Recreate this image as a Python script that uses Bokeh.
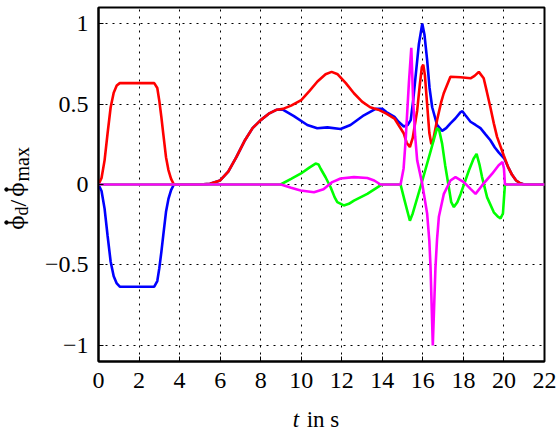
import math
from bokeh.plotting import figure
from bokeh.layouts import row, column
from bokeh.models import Range1d, FixedTicker, CustomJSTickFormatter
from bokeh.core.properties import value
from bokeh.embed import file_html
from bokeh.resources import INLINE

# ---------------- data ----------------
x_ticks = [0, 2, 4, 6, 8, 10, 12, 14, 16, 18, 20, 22]
y_ticks = [-1, -0.5, 0, 0.5, 1]

blue_t = [0, 0.15, 0.3, 0.45, 0.6, 0.75, 0.9, 1.05, 1.2, 2.75, 2.9, 3.0, 3.1, 3.2, 3.33, 3.45, 3.58, 3.72,
          5.0, 5.5, 6.0, 6.4, 6.8, 7.2, 7.6, 8.0, 8.4, 8.8, 9.07, 9.64, 10.3, 10.79, 11.29, 11.94, 12.43,
          13.09, 13.67, 14.0, 14.2, 14.6, 14.8, 15.06, 15.25, 15.4, 15.52, 15.64, 15.8, 15.97, 16.08,
          16.21, 16.33, 16.46, 16.7, 16.95, 17.15, 17.36, 17.6, 17.86, 17.95, 18.1, 18.35, 18.6, 18.84,
          19.1, 19.33, 19.55, 19.74, 20.02, 20.2, 20.4, 20.6, 20.8, 21.0, 22.0]
blue_v = [0, -0.04, -0.15, -0.32, -0.48, -0.57, -0.615, -0.635, -0.635, -0.635, -0.6, -0.52, -0.42, -0.31,
          -0.17, -0.09, -0.035, 0,
          0, 0.005, 0.025, 0.08, 0.17, 0.27, 0.35, 0.4, 0.44, 0.465, 0.467, 0.425, 0.37, 0.35, 0.355, 0.345,
          0.37, 0.43, 0.47, 0.47, 0.45, 0.42, 0.39, 0.36, 0.37, 0.40, 0.52, 0.67, 0.87, 1.0, 0.93,
          0.775, 0.6, 0.48, 0.37, 0.333, 0.35, 0.38, 0.41, 0.45, 0.455, 0.43, 0.39, 0.37, 0.35,
          0.31, 0.275, 0.23, 0.20, 0.16, 0.11, 0.06, 0.025, 0.008, 0, 0]

red_t = [0, 0.15, 0.3, 0.45, 0.6, 0.75, 0.9, 1.05, 1.2, 2.75, 2.9, 3.0, 3.1, 3.2, 3.33, 3.45, 3.58, 3.72,
         5.0, 5.5, 6.0, 6.4, 6.8, 7.2, 7.6, 8.0, 8.4, 8.8, 9.1, 9.5, 10.0, 10.4, 10.8, 11.2, 11.5, 11.8,
         12.2, 12.6, 13.0, 13.4, 13.8, 14.2, 14.6, 15.06, 15.2, 15.36, 15.5, 15.72, 15.85, 15.95, 16.02,
         16.1, 16.21, 16.32, 16.42, 16.5, 16.7, 16.9, 17.03, 17.36, 17.86, 18.35, 18.55, 18.76, 19.0,
         19.15, 19.33, 19.5, 19.66, 19.99, 20.2, 20.4, 20.6, 20.8, 21.0, 22.0]
red_v = [0, 0.04, 0.15, 0.32, 0.48, 0.57, 0.615, 0.63, 0.63, 0.63, 0.6, 0.52, 0.42, 0.31, 0.17, 0.09,
         0.035, 0,
         0, 0.005, 0.025, 0.08, 0.17, 0.27, 0.35, 0.4, 0.44, 0.465, 0.47, 0.49, 0.525, 0.58, 0.64, 0.685,
         0.70, 0.685, 0.63, 0.567, 0.515, 0.48, 0.465, 0.44, 0.41, 0.317, 0.26, 0.233, 0.29, 0.46, 0.62,
         0.73, 0.745, 0.68, 0.50, 0.32, 0.25, 0.27, 0.40, 0.51, 0.567, 0.67, 0.667, 0.66, 0.675, 0.70,
         0.66, 0.58, 0.48, 0.38, 0.296, 0.18, 0.11, 0.06, 0.025, 0.008, 0, 0]

green_t = [0, 8.98, 9.5, 9.97, 10.4, 10.71, 10.85, 10.96, 11.2, 11.45, 11.65, 11.78, 12.1, 12.35, 12.6,
           13.26, 13.91, 14.0, 14.9, 15.1, 15.36, 15.5, 15.88, 16.3, 16.7, 16.8, 16.95, 17.1, 17.28,
           17.4, 17.53, 17.7, 17.86, 18.27, 18.5, 18.65, 18.8, 18.92, 19.17, 19.5, 19.7, 19.83, 19.95,
           20.02, 20.05, 22.0]
green_v = [0, 0, 0.035, 0.067, 0.105, 0.13, 0.125, 0.098, 0.045, -0.017, -0.08, -0.11, -0.13, -0.12, -0.1,
           -0.058, -0.006, 0, 0, -0.1, -0.225, -0.18, -0.017, 0.17, 0.35, 0.34, 0.254, 0.12, -0.017,
           -0.11, -0.14, -0.11, -0.06, 0.087, 0.16, 0.19, 0.12, 0.046, -0.08, -0.173, -0.2, -0.21, -0.18,
           -0.05, 0, 0]

magenta_t = [0, 9.0, 9.5, 9.97, 10.63, 11.1, 11.53, 11.94, 12.6, 13.26, 13.6, 13.91, 14.9, 15.05, 15.15,
             15.31, 15.43, 15.52, 15.62, 15.72, 15.97, 16.21, 16.32, 16.38, 16.44, 16.49, 16.55, 16.62,
             16.7, 16.79, 17.03, 17.36, 17.61, 18.02, 18.35, 18.6, 18.92, 19.42, 19.74, 19.93, 20.0,
             20.05, 22.0]
magenta_v = [0, 0, -0.02, -0.037, -0.048, -0.03, 0.015, 0.037, 0.046, 0.04, 0.025, 0, 0, 0.1, 0.275,
             0.63, 0.85, 0.525, 0.3, 0.15, 0.004, -0.18, -0.35, -0.52, -0.78, -1.0, -0.78, -0.52,
             -0.34, -0.2, -0.06, 0.025, 0.046, 0.015, -0.027, -0.058, -0.006, 0.067, 0.12, 0.14, 0.1,
             0, 0]

FONT = "Liberation Serif"
PHI_FONT = "DejaVu Serif"

# ---------------- main figure ----------------
p = figure(width=516, height=400, output_backend="svg", toolbar_location=None, title=None,
           x_range=Range1d(0, 22), y_range=Range1d(-1.1, 1.1),
           min_border_left=58, min_border_right=12, min_border_top=7, min_border_bottom=39)
p.background_fill_color = "white"
p.border_fill_color = "white"
p.outline_line_color = "black"
p.outline_line_width = 2

for ax in (p.xaxis[0], p.yaxis[0]):
    ax.axis_line_color = "black"
    ax.axis_line_width = 2
    ax.major_tick_in = 5
    ax.major_tick_out = 0
    ax.minor_tick_in = 0
    ax.minor_tick_out = 0
    ax.major_tick_line_color = "black"
    ax.major_label_text_font = FONT
    ax.major_label_text_font_size = "24px"
    ax.major_label_text_color = "black"
p.xaxis[0].major_label_standoff = 11
p.yaxis[0].major_label_standoff = 10

p.xaxis[0].ticker = FixedTicker(ticks=x_ticks)
p.yaxis[0].ticker = FixedTicker(ticks=y_ticks)
p.yaxis[0].formatter = CustomJSTickFormatter(
    code="return tick < 0 ? '\\u2212' + String(Math.abs(tick)) : String(tick);")

p.xgrid.ticker = FixedTicker(ticks=x_ticks)
p.ygrid.ticker = FixedTicker(ticks=y_ticks)
for g in (p.xgrid[0], p.ygrid[0]):
    g.grid_line_color = "black"
    g.grid_line_dash = "2 5"
    g.grid_line_width = 1
    g.grid_line_alpha = 1

LW = 2.6
p.line(blue_t, blue_v, line_color="#0000ff", line_width=LW)
p.line(red_t, red_v, line_color="#ff0000", line_width=LW)
p.line(green_t, green_v, line_color="#00ff00", line_width=LW)
p.line(magenta_t, magenta_v, line_color="#ff00ff", line_width=LW)


def strip(w, h, xr, yr, bl=0, br=0):
    f = figure(width=w, height=h, output_backend="svg", toolbar_location=None, title=None,
               x_range=Range1d(*xr), y_range=Range1d(*yr),
               x_axis_location=None, y_axis_location=None,
               min_border=0, min_border_left=bl, min_border_right=br,
               min_border_top=0, min_border_bottom=0)
    f.grid.visible = False
    f.outline_line_color = None
    f.background_fill_color = "white"
    f.border_fill_color = "white"
    return f


# ---------------- y-axis title strip (left) ----------------
left = strip(40, 434, (0, 40), (0, 434))
A = math.pi / 2
# (x baseline, y position, text, font, size, align)
ylab = [
    (16, 212, "\u03d5", PHI_FONT, "21px", "center"),
    (21, 219, "d", FONT, "18px", "left"),
    (17, 228, "/", FONT, "24px", "left"),
    (16, 245, "\u03d5", PHI_FONT, "21px", "center"),
    (21, 253, "max", FONT, "20px", "left"),
]
for x, y, t, fnt, s, al in ylab:
    left.text(x=[x], y=[y], text=[t], angle=A, text_font=value(fnt), text_font_size=value(s),
              text_color="black", text_baseline="alphabetic", text_align=al)
# time-derivative dots over the two phi symbols
left.scatter(x=[6, 6], y=[212, 245], marker="circle", size=3.5,
             fill_color="black", line_color="black")

# ---------------- x-axis title strip (bottom), frame aligned with the main frame ----------------
bottom = strip(516, 34, (0, 22), (0, 34), bl=58, br=12)
bottom.text(x=[9.58], y=[15], text=["t"], text_font=value(FONT), text_font_style="italic",
            text_font_size=value("23px"), text_color="black", text_baseline="alphabetic")
bottom.text(x=[10.27], y=[15], text=["in s"], text_font=value(FONT),
            text_font_size=value("23px"), text_color="black", text_baseline="alphabetic")

layout = row(left, column(p, bottom, spacing=0), spacing=0)
open("out.html", "w").write(file_html(layout, INLINE))
